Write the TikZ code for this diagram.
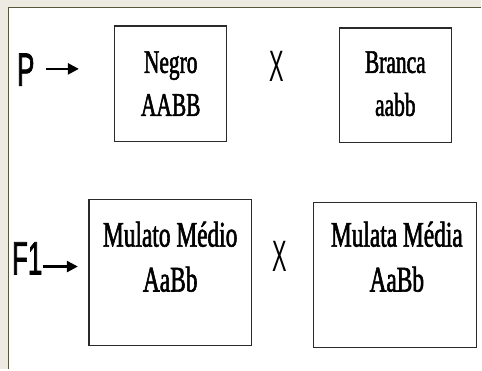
\documentclass[tikz,border=0pt]{standalone}
\usepackage{fontspec}
\setmainfont{Liberation Serif}
\newfontfamily\boxfont[FakeStretch=0.65,FakeBold=1.6]{Liberation Serif}
\newfontfamily\labfont[FakeStretch=0.55,FakeBold=1.4]{Liberation Sans}
\newfontfamily\crossfont[FakeStretch=0.55]{Liberation Sans}
\usetikzlibrary{arrows.meta}
\definecolor{paper}{HTML}{EDEAE2}
\definecolor{frame}{HTML}{56553E}
\definecolor{boxline}{HTML}{2A2A2A}
\tikzset{
  cross/.style={draw=boxline, line width=1.3pt, inner sep=0pt},
  gene/.style={anchor=base, inner sep=0pt, font=\boxfont\fontsize{33}{33}\selectfont},
  geneB/.style={anchor=base, inner sep=0pt, font=\boxfont\fontsize{36}{36}\selectfont},
  gen/.style={anchor=base west, inner sep=0pt, font=\labfont\fontsize{47}{47}\selectfont},
  times/.style={anchor=base, inner sep=0pt, font=\crossfont\fontsize{44}{44}\selectfont, xscale=0.9},
  pointer/.style={line width=2.4pt, -{Triangle[length=11pt,width=11pt]}}
}
\begin{document}
\begin{tikzpicture}[x=1pt,y=-1pt]
  % page and slide frame
  \fill[paper] (0,0) rectangle (482,370);
  \fill[white] (8.5,7.5) rectangle (482,370);
  \draw[frame, line width=1.6pt] (8.5,370) -- (8.5,7.5) -- (482,7.5);
  \useasboundingbox (0,0) rectangle (482,370);

  % parents
  \node[gen] (p) at (17,86) {P};
  \coordinate (pa) at (46,69);
  \coordinate (pb) at (79,69);
  \draw[pointer] (pa) -- (pb);

  \path[cross] (115,26) rectangle (227,142);
  \node[gene] (negro) at (171,73) {Negro};
  \node[gene] (aabbN) at (171,116) {AABB};

  \node[times] (x1) at (277.5,82) {X};

  \path[cross] (340,28) rectangle (452,143);
  \node[gene] (branca) at (396,73) {Branca};
  \node[gene] (aabb) at (396,116) {aabb};

  % first filial generation
  \node[gen] (f1) at (12,275) {F1};
  \coordinate (fa) at (43,267);
  \coordinate (fb) at (78,267);
  \draw[pointer] (fa) -- (fb);

  \path[cross] (89,200) rectangle (252,346);
  \node[geneB] (mulato) at (170.5,247) {Mulato Médio};
  \node[geneB] (aabbM) at (170.5,292) {AaBb};

  \node[times] (x2) at (280.5,272) {X};

  \path[cross] (314,203) rectangle (477,348);
  \node[geneB] (mulata) at (397.5,247) {Mulata Média};
  \node[geneB] (aabbF) at (397.5,292) {AaBb};
\end{tikzpicture}
\end{document}
